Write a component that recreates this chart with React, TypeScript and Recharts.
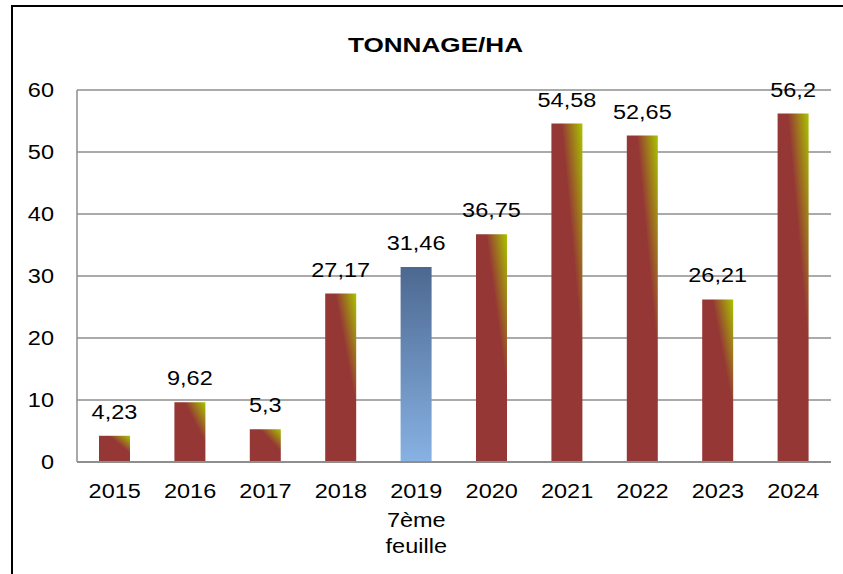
import { BarChart, Bar, XAxis, YAxis, CartesianGrid, LabelList, Cell } from "recharts";

const years = ["2015", "2016", "2017", "2018", "2019", "2020", "2021", "2022", "2023", "2024"];
const tonnage = [4.23, 9.62, 5.3, 27.17, 31.46, 36.75, 54.58, 52.65, 26.21, 56.2];
const subLabels: Record<string, string[]> = { "2019": ["7ème", "feuille"] };
const highlightYear = "2019";
const yTicks = [0, 10, 20, 30, 40, 50, 60];

const data = years.map((year, i) => ({ year, value: tonnage[i] }));

const FONT = '"Liberation Sans", Arial, sans-serif';
const GRID = "#8e8e8e";
const STRETCH = 1.12; // source text is a bit wider than plain Arial

// text drawn at (x, y) and widened horizontally around that point
const WideText = ({ x, y, anchor = "middle", dy, children }: any) => (
  <text
    transform={`translate(${x},${y}) scale(${STRETCH},1)`}
    x={0}
    y={0}
    dy={dy}
    textAnchor={anchor}
    fill="#000"
    fontSize={21}
    fontFamily={FONT}
  >
    {children}
  </text>
);

const YearTick = (props: any) => {
  const { x, y, payload } = props;
  const extra = subLabels[payload.value] || [];
  return (
    <g>
      <WideText x={x} y={y + 36}>{payload.value}</WideText>
      {extra.map((line, i) => (
        <WideText key={line} x={x} y={y + 65 + i * 26}>
          {line}
        </WideText>
      ))}
    </g>
  );
};

const ValueTick = (props: any) => {
  const { x, y, payload } = props;
  return (
    <WideText x={x} y={y} anchor="end" dy="0.35em">
      {payload.value}
    </WideText>
  );
};

const ValueLabel = (props: any) => {
  const { x, y, width, value } = props;
  return (
    <WideText x={x + width / 2} y={y - 17}>
      {String(value).replace(".", ",")}
    </WideText>
  );
};

export default function App() {
  return (
    <div style={{ position: "absolute", left: 0, top: 0, width: 843, height: 574, overflow: "hidden", background: "#fff" }}>
      <div
        style={{
          position: "absolute",
          left: 11,
          top: 5,
          width: 900,
          height: 700,
          border: "2px solid #000",
        }}
      />
      <div style={{ position: "absolute", left: 0, top: 0 }}>
        <BarChart width={843} height={574} data={data} margin={{ top: 90, right: 12, bottom: 0, left: 0 }}>
          <defs>
            <linearGradient id="redGrad" x1="0" y1="1" x2="1" y2="0">
              <stop offset="0" stopColor="#953735" />
              <stop offset="0.66" stopColor="#953735" />
              <stop offset="1" stopColor="#a9c400" />
            </linearGradient>
            <linearGradient id="blueGrad" x1="0" y1="0" x2="0" y2="1">
              <stop offset="0" stopColor="#4c6890" />
              <stop offset="1" stopColor="#87b2e4" />
            </linearGradient>
          </defs>
          <CartesianGrid vertical={false} stroke={GRID} strokeWidth={1.5} />
          <XAxis
            dataKey="year"
            height={112}
            interval={0}
            tickLine={false}
            tickSize={0}
            tickMargin={0}
            axisLine={{ stroke: GRID, strokeWidth: 2 }}
            tick={<YearTick />}
          />
          <YAxis
            width={77}
            domain={[0, 60]}
            ticks={yTicks}
            tickLine={false}
            tickSize={0}
            tickMargin={23}
            axisLine={{ stroke: GRID, strokeWidth: 1.5 }}
            tick={<ValueTick />}
          />
          <Bar dataKey="value" barSize={31} isAnimationActive={false}>
            {data.map((d) => (
              <Cell key={d.year} fill={d.year === highlightYear ? "url(#blueGrad)" : "url(#redGrad)"} />
            ))}
            <LabelList dataKey="value" content={<ValueLabel />} />
          </Bar>
        </BarChart>
      </div>
      <svg width={843} height={574} style={{ position: "absolute", left: 0, top: 0, pointerEvents: "none" }}>
        <text
          x={435.5}
          y={52}
          textAnchor="middle"
          fontSize={21}
          fontWeight="bold"
          fontFamily={FONT}
          fill="#000"
          textLength={175}
          lengthAdjust="spacingAndGlyphs"
        >
          TONNAGE/HA
        </text>
      </svg>
    </div>
  );
}
